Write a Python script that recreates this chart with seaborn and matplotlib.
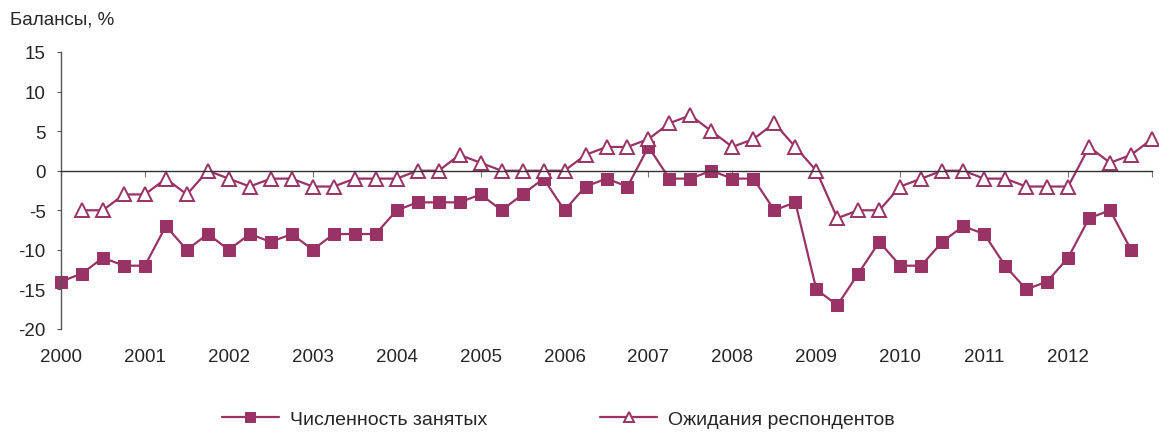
import numpy as np
import pandas as pd
import seaborn as sns
import matplotlib.pyplot as plt

# quarterly balances, 2000Q1 .. 2013Q1
years = list(range(2000, 2013))
employment = [-14, -13, -11, -12, -12, -7, -10, -8, -10, -8, -9, -8, -10, -8, -8, -8,
              -5, -4, -4, -4, -3, -5, -3, -1, -5, -2, -1, -2, 3, -1, -1, 0,
              -1, -1, -5, -4, -15, -17, -13, -9, -12, -12, -9, -7, -8, -12, -15, -14,
              -11, -6, -5, -10, np.nan]
expectations = [np.nan, -5, -5, -3, -3, -1, -3, 0, -1, -2, -1, -1, -2, -2, -1, -1,
                -1, 0, 0, 2, 1, 0, 0, 0, 0, 2, 3, 3, 4, 6, 7, 5,
                3, 4, 6, 3, 0, -6, -5, -5, -2, -1, 0, 0, -1, -1, -2, -2,
                -2, 3, 1, 2, 4]
lab_emp = 'Численность занятых'
lab_exp = 'Ожидания респондентов'

data = pd.DataFrame({'q': np.arange(len(employment)),
                     'emp': employment, 'exp': expectations})

sns.set_style('white')
plt.rcParams['font.family'] = ['Liberation Sans', 'DejaVu Sans']
plt.rcParams['axes.unicode_minus'] = False

color = '#993366'
fig = plt.figure(figsize=(11.59, 4.35), dpi=100)
ax = fig.add_axes([0.0526, 0.2414, 0.9414, 0.6368])

sns.lineplot(x='q', y='emp', data=data, ax=ax, color=color, lw=1.6,
             marker='s', markersize=9, markeredgecolor=color, label=lab_emp,
             clip_on=False)
sns.lineplot(x='q', y='exp', data=data, ax=ax, color=color, lw=1.6,
             marker='^', markersize=10, markerfacecolor='white',
             markeredgecolor=color, markeredgewidth=1.4, label=lab_exp,
             clip_on=False)

ax.set_xlim(0, 52)
ax.set_ylim(-20, 15)
ax.set_yticks(range(-20, 16, 5))
ax.set_xlabel('')
ax.set_ylabel('')

for s in ['top', 'right']:
    ax.spines[s].set_visible(False)
ax.spines['left'].set_color('#555555')
ax.spines['left'].set_linewidth(1.0)
ax.spines['bottom'].set_position(('data', 0))
ax.spines['bottom'].set_color('#333333')
ax.spines['bottom'].set_linewidth(1.0)
ax.set_xticks(range(0, 53, 4))
ax.tick_params(axis='x', direction='out', length=4, color='#777777',
               labelbottom=False, bottom=True)
ax.tick_params(axis='y', direction='out', length=3, color='#555555',
               left=True, labelsize=13.5, pad=8)

sec = ax.secondary_xaxis(0.0)
sec.set_xticks(range(0, 49, 4))
sec.set_xticklabels([str(y) for y in years])
sec.spines['bottom'].set_visible(False)
sec.tick_params(length=0, labelsize=13.5, pad=14)

fig.text(0.009, 0.955, 'Балансы, %', fontsize=13.5, va='center', ha='left')

ax.get_legend().remove()
h, l = ax.get_legend_handles_labels()
fig.legend(h, l, loc='center', bbox_to_anchor=(0.482, 0.035), ncol=2,
           frameon=False, fontsize=14, handlelength=2.9, handletextpad=0.6,
           columnspacing=5.8, markerscale=0.75)

fig.savefig('out.png', dpi=100)
